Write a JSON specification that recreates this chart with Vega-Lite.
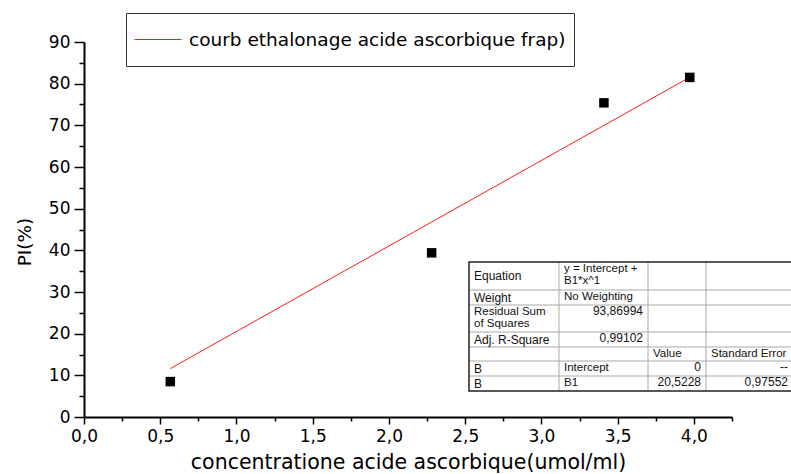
{
  "$schema": "https://vega.github.io/schema/vega-lite/v6.json",
  "width": 648,
  "height": 375,
  "autosize": {"type": "none"},
  "padding": {"left": 84, "top": 42, "right": 59, "bottom": 57},
  "background": "white",
  "config": {"view": {"stroke": null}, "font": "DejaVu Sans"},
  "datasets": {
    "pts": [
      {"x": 0.566, "y": 8.5},
      {"x": 2.28, "y": 39.4},
      {"x": 3.41, "y": 75.4},
      {"x": 3.973, "y": 81.5}
    ],
    "fit": [
      {"x": 0.566, "y": 11.62, "series": "courb ethalonage acide ascorbique frap)"},
      {"x": 3.973, "y": 81.54, "series": "courb ethalonage acide ascorbique frap)"}
    ],
    "cells": [
      {"row": 0, "col": 0, "text": "Equation", "kind": "text"},
      {"row": 0, "col": 1, "text": "y = Intercept +\nB1*x^1", "kind": "text"},
      {"row": 1, "col": 0, "text": "Weight", "kind": "text"},
      {"row": 1, "col": 1, "text": "No Weighting", "kind": "text"},
      {"row": 2, "col": 0, "text": "Residual Sum\nof Squares", "kind": "text"},
      {"row": 2, "col": 1, "text": "93,86994", "kind": "num"},
      {"row": 3, "col": 0, "text": "Adj. R-Square", "kind": "text"},
      {"row": 3, "col": 1, "text": "0,99102", "kind": "num"},
      {"row": 4, "col": 2, "text": "Value", "kind": "text"},
      {"row": 4, "col": 3, "text": "Standard Error", "kind": "text"},
      {"row": 5, "col": 0, "text": "B", "kind": "text"},
      {"row": 5, "col": 1, "text": "Intercept", "kind": "text"},
      {"row": 5, "col": 2, "text": "0", "kind": "num"},
      {"row": 5, "col": 3, "text": "--", "kind": "num"},
      {"row": 6, "col": 0, "text": "B", "kind": "text"},
      {"row": 6, "col": 1, "text": "B1", "kind": "text"},
      {"row": 6, "col": 2, "text": "20,5228", "kind": "num"},
      {"row": 6, "col": 3, "text": "0,97552", "kind": "num"}
    ],
    "hl": [{"b": 1}, {"b": 2}, {"b": 3}, {"b": 4}, {"b": 5}, {"b": 6}],
    "vl": [{"b": 1}, {"b": 2}, {"b": 3}]
  },
  "layer": [
    {
      "layer": [
        {
          "data": {"name": "fit"},
          "mark": {"type": "line", "color": "#ff1a1a", "strokeWidth": 1},
          "encoding": {
            "x": {
              "field": "x", "type": "quantitative",
              "scale": {"domain": [0, 4.25], "nice": false, "zero": false},
              "axis": {
                "orient": "bottom",
                "values": [0, 0.5, 1, 1.5, 2, 2.5, 3, 3.5, 4],
                "labelExpr": "replace(format(datum.value, '.1f'), '.', ',')",
                "title": "concentratione acide ascorbique(umol/ml)",
                "titleFont": "DejaVu Sans", "titleFontSize": 20.5, "titleFontWeight": "normal", "titleColor": "black",
                "titleX": 324, "titleY": 51, "titleAlign": "center", "titleBaseline": "alphabetic",
                "labelFont": "DejaVu Sans", "labelFontSize": 17, "labelColor": "black", "labelPadding": 4,
                "labelFlush": false, "labelOverlap": false,
                "tickSize": 7, "tickWidth": 1.5, "tickColor": "black",
                "domainColor": "black", "domainWidth": 2, "grid": false
              }
            },
            "y": {
              "field": "y", "type": "quantitative",
              "scale": {"domain": [0, 90], "nice": false, "zero": false},
              "axis": {
                "orient": "left",
                "values": [0, 10, 20, 30, 40, 50, 60, 70, 80, 90],
                "format": "d",
                "title": "PI(%)",
                "titleFont": "DejaVu Sans", "titleFontSize": 18.5, "titleFontWeight": "normal", "titleColor": "black",
                "titleX": -54, "titleY": 199.5, "titleAngle": -90, "titleAlign": "center", "titleBaseline": "alphabetic",
                "labelFont": "DejaVu Sans", "labelFontSize": 17, "labelColor": "black", "labelPadding": 4,
                "labelFlush": false, "labelOverlap": false,
                "tickSize": 10, "tickWidth": 1.5, "tickColor": "black",
                "domainColor": "black", "domainWidth": 2, "grid": false
              }
            },
            "color": {
              "field": "series", "type": "nominal",
              "scale": {"range": ["#ff1a1a"]},
              "legend": {
                "orient": "none", "legendX": 42, "legendY": -29,
                "title": null,
                "strokeColor": "#333333", "fillColor": "white", "padding": 8,
                "clipHeight": 37,
                "symbolType": "stroke", "symbolSize": 2209, "symbolStrokeWidth": 1,
                "labelFont": "DejaVu Sans", "labelFontSize": 18.5, "labelColor": "black", "labelOffset": 7, "labelLimit": 600
              }
            }
          }
        },
        {
          "data": {"name": "pts"},
          "mark": {"type": "point", "shape": "square", "filled": true, "color": "black", "size": 90, "opacity": 1},
          "encoding": {
            "x": {"field": "x", "type": "quantitative", "axis": null},
            "y": {"field": "y", "type": "quantitative", "axis": null}
          }
        },
        {
          "data": {"name": "pts"},
          "mark": {"type": "point", "opacity": 0},
          "encoding": {
            "x": {
              "field": "x", "type": "quantitative",
              "axis": {
                "orient": "bottom", "values": [0.25, 0.75, 1.25, 1.75, 2.25, 2.75, 3.25, 3.75, 4.25],
                "labels": false, "domain": false, "title": null, "grid": false,
                "tickSize": 4, "tickWidth": 1.5, "tickColor": "black"
              }
            },
            "y": {
              "field": "y", "type": "quantitative",
              "axis": {
                "orient": "left", "values": [5, 15, 25, 35, 45, 55, 65, 75, 85],
                "labels": false, "domain": false, "title": null, "grid": false,
                "tickSize": 5, "tickWidth": 1.5, "tickColor": "black"
              }
            }
          }
        }
      ],
      "resolve": {"axis": {"x": "independent", "y": "independent"}}
    },
    {
      "layer": [
        {
          "data": {"name": "hl"},
          "mark": {"type": "rule", "color": "#a8a8a8", "strokeWidth": 1},
          "encoding": {
            "y": {"field": "b", "type": "quantitative", "axis": null,
                  "scale": {"domain": [0, 1, 2, 3, 4, 5, 6, 7], "range": [220, 248, 263, 290, 305, 319, 334, 349], "nice": false, "zero": false}},
            "x": {"datum": 0, "type": "quantitative", "axis": null,
                  "scale": {"domain": [0, 1, 2, 3, 4], "range": [385, 475, 564, 622, 709], "nice": false, "zero": false}},
            "x2": {"datum": 4}
          }
        },
        {
          "data": {"name": "vl"},
          "mark": {"type": "rule", "color": "#a8a8a8", "strokeWidth": 1},
          "encoding": {
            "x": {"field": "b", "type": "quantitative", "axis": null},
            "y": {"datum": 0, "type": "quantitative", "axis": null},
            "y2": {"datum": 7}
          }
        },
        {
          "data": {"values": [{}]},
          "mark": {"type": "rect", "fill": "white", "fillOpacity": 0, "stroke": "#222222", "strokeWidth": 1.5},
          "encoding": {
            "x": {"datum": 0, "type": "quantitative", "axis": null},
            "x2": {"datum": 4},
            "y": {"datum": 0, "type": "quantitative", "axis": null},
            "y2": {"datum": 7}
          }
        },
        {
          "data": {"name": "cells"},
          "transform": [
            {"filter": "datum.col == 0 && indexof(datum.text, '\\n') < 0"},
            {"calculate": "datum.row + 0.5", "as": "ym"}
          ],
          "mark": {"type": "text", "align": "left", "baseline": "middle", "dx": 5, "font": "Liberation Sans", "fontSize": 12, "color": "#111111"},
          "encoding": {
            "x": {"field": "col", "type": "quantitative", "axis": null},
            "y": {"field": "ym", "type": "quantitative", "axis": null},
            "text": {"field": "text"}
          }
        },
        {
          "data": {"name": "cells"},
          "transform": [{"filter": "datum.kind == 'text' && (datum.col > 0 || indexof(datum.text, '\\n') >= 0)"}],
          "mark": {"type": "text", "align": "left", "baseline": "top", "dx": 5, "dy": 1, "font": "Liberation Sans", "fontSize": 11.5, "lineBreak": "\n", "lineHeight": 12, "color": "#111111"},
          "encoding": {
            "x": {"field": "col", "type": "quantitative", "axis": null},
            "y": {"field": "row", "type": "quantitative", "axis": null},
            "text": {"field": "text"}
          }
        },
        {
          "data": {"name": "cells"},
          "transform": [{"filter": "datum.kind == 'num'"}, {"calculate": "datum.col + 1", "as": "xr"}],
          "mark": {"type": "text", "align": "right", "baseline": "top", "dx": -5, "dy": 1, "font": "Liberation Sans", "fontSize": 12, "color": "#111111"},
          "encoding": {
            "x": {"field": "xr", "type": "quantitative", "axis": null},
            "y": {"field": "row", "type": "quantitative", "axis": null},
            "text": {"field": "text"}
          }
        }
      ]
    }
  ],
  "resolve": {"scale": {"x": "independent", "y": "independent"}}
}
